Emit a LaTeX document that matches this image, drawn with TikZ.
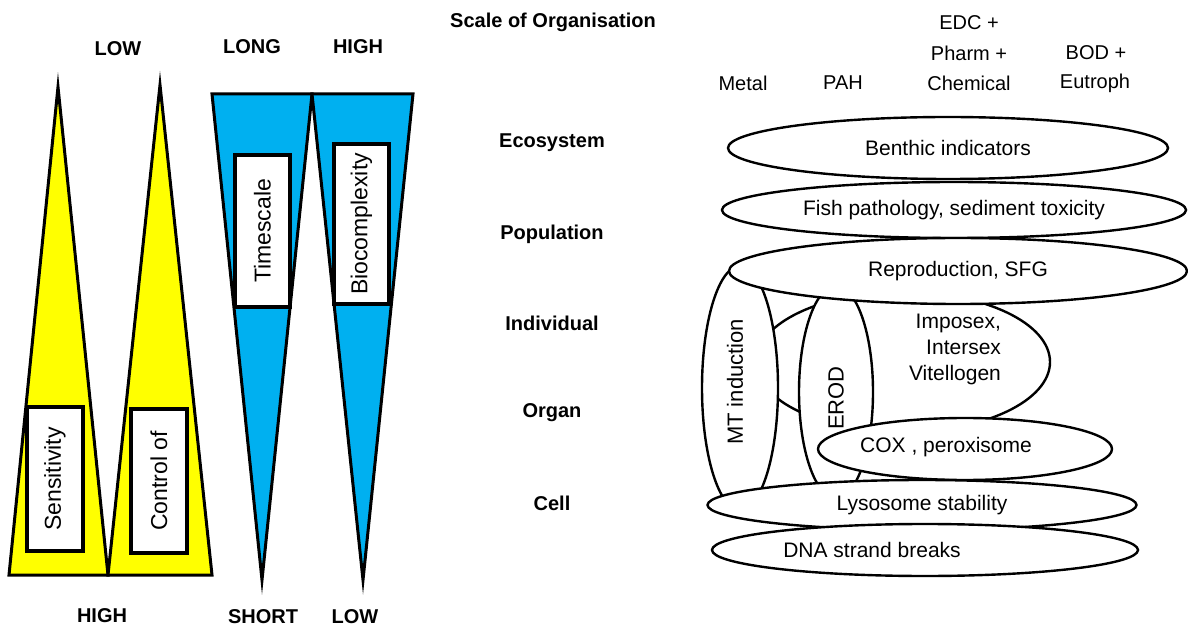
\documentclass[tikz,border=0pt]{standalone}
\usepackage{fontspec}
\setmainfont{Liberation Sans}
\usetikzlibrary{shapes.geometric}
\definecolor{TriYellow}{RGB}{255,255,0}
\definecolor{TriBlue}{RGB}{0,176,240}
\tikzset{
	tri/.style={draw=black,line width=1.5pt,fill=TriYellow},
	inv/.style={draw=black,line width=1.5pt,fill=TriBlue},
	box/.style={draw=black,fill=white,line width=2pt,inner sep=0pt,rotate=90,
		font=\fontsize{11.5}{13}\selectfont},
	lvl/.style={font=\fontsize{10}{12}\selectfont\bfseries},
	lbl/.style={font=\fontsize{10}{12}\selectfont},
	ell/.style={ellipse,draw=black,fill=white,line width=1.2pt,inner sep=0pt,
		font=\fontsize{10.5}{13}\selectfont},
	vtxt/.style={rotate=90,font=\fontsize{11}{13}\selectfont},
}

\begin{document}
\begin{tikzpicture}[x=0.5pt,y=-0.5pt]
	\useasboundingbox (0,0) rectangle (1188,630);
	% yellow triangles
	\coordinate (s1) at (58,87);
	\coordinate (s2) at (160,85);
	\coordinate (b1) at (9,575);
	\coordinate (b2) at (108,575);
	\coordinate (b3) at (212,575);
	\filldraw[tri] (b1)--(s1)--(b2)--cycle;
	\filldraw[tri] (b2)--(s2)--(b3)--cycle;
	\node[box,minimum width=72pt,minimum height=28pt] (sens) at (55,479) {Sensitivity};
	\node[box,minimum width=72pt,minimum height=28pt] (ctrl) at (159,481) {Control of};
	% blue triangles
	\coordinate (t1) at (212,94);
	\coordinate (t2) at (312,94);
	\coordinate (t3) at (413,94);
	\coordinate (p1) at (262,580);
	\coordinate (p2) at (363,580);
	\filldraw[inv] (t1)--(t2)--(p1)--cycle;
	\filldraw[inv] (t2)--(t3)--(p2)--cycle;
	\node[box,minimum width=76pt,minimum height=27.5pt] (time) at (262.5,231) {Timescale};
	\node[box,minimum width=80pt,minimum height=27.5pt] (bio) at (361.5,224) {Biocomplexity};
	% end labels
	\node[lvl] (low1) at (118,49) {LOW};
	\node[lvl] (long) at (252,47) {LONG};
	\node[lvl] (high1) at (358,47) {HIGH};
	\node[lvl] (high2) at (102,616) {HIGH};
	\node[lvl] (short) at (263,617) {SHORT};
	\node[lvl] (low2) at (355,617) {LOW};
	% levels
	\node[lvl] (scale) at (553,22) {Scale of Organisation};
	\node[lvl] (eco) at (552,143) {Ecosystem};
	\node[lvl] (pop) at (552,234) {Population};
	\node[lvl] (ind) at (552,323) {Individual};
	\node[lvl] (org) at (552,413) {Organ};
	\node[lvl] (cell) at (552,503) {Cell};
	% stressors
	\node[lbl] (metal) at (743,83) {Metal};
	\node[lbl] (pah) at (843,83) {PAH};
	\node[lbl] (edc1) at (969,23) {EDC +};
	\node[lbl] (edc2) at (969,53) {Pharm +};
	\node[lbl] (edc3) at (969,83) {Chemical};
	\node[lbl] (bod1) at (1096,53) {BOD +};
	\node[lbl] (bod2) at (1095,83) {Eutroph};
	% biomarker ellipses
	\node[ell,minimum width=147pt,minimum height=70pt] (imp) at (903,362) {};
	\node[ell,minimum width=38pt,minimum height=122pt] (mt) at (740,388) {};
	\node[vtxt] (mttxt) at (735,382) {MT induction};
	\node[ell,minimum width=37pt,minimum height=106pt] (erod) at (836,392) {};
	\node[vtxt] (erodtxt) at (836,398) {EROD};
	\node[ell,minimum width=220pt,minimum height=31pt] (benth) at (948,148) {Benthic indicators};
	\node[ell,minimum width=232pt,minimum height=28pt] (fish) at (954,210) {Fish pathology, sediment toxicity};
	\node[ell,minimum width=229pt,minimum height=33pt] (repro) at (958,271) {Reproduction, SFG};
	\node[anchor=east,align=right,font=\fontsize{10.5}{13}\selectfont] (imptxt) at (1008,349) {Imposex,\\Intersex\\Vitellogen};
	\node[ell,minimum width=147pt,minimum height=31pt] (cox) at (965,449) {};
	\node[font=\fontsize{10.5}{13}\selectfont] (coxtxt) at (946,447) {COX , peroxisome};
	\node[ell,minimum width=214.5pt,minimum height=25pt] (lyso) at (922,505) {Lysosome stability};
	\node[ell,minimum width=213pt,minimum height=26pt] (dna) at (925,550) {};
	\node[font=\fontsize{10.5}{13}\selectfont] (dnatxt) at (872,550) {DNA strand breaks};
\end{tikzpicture}
\end{document}
